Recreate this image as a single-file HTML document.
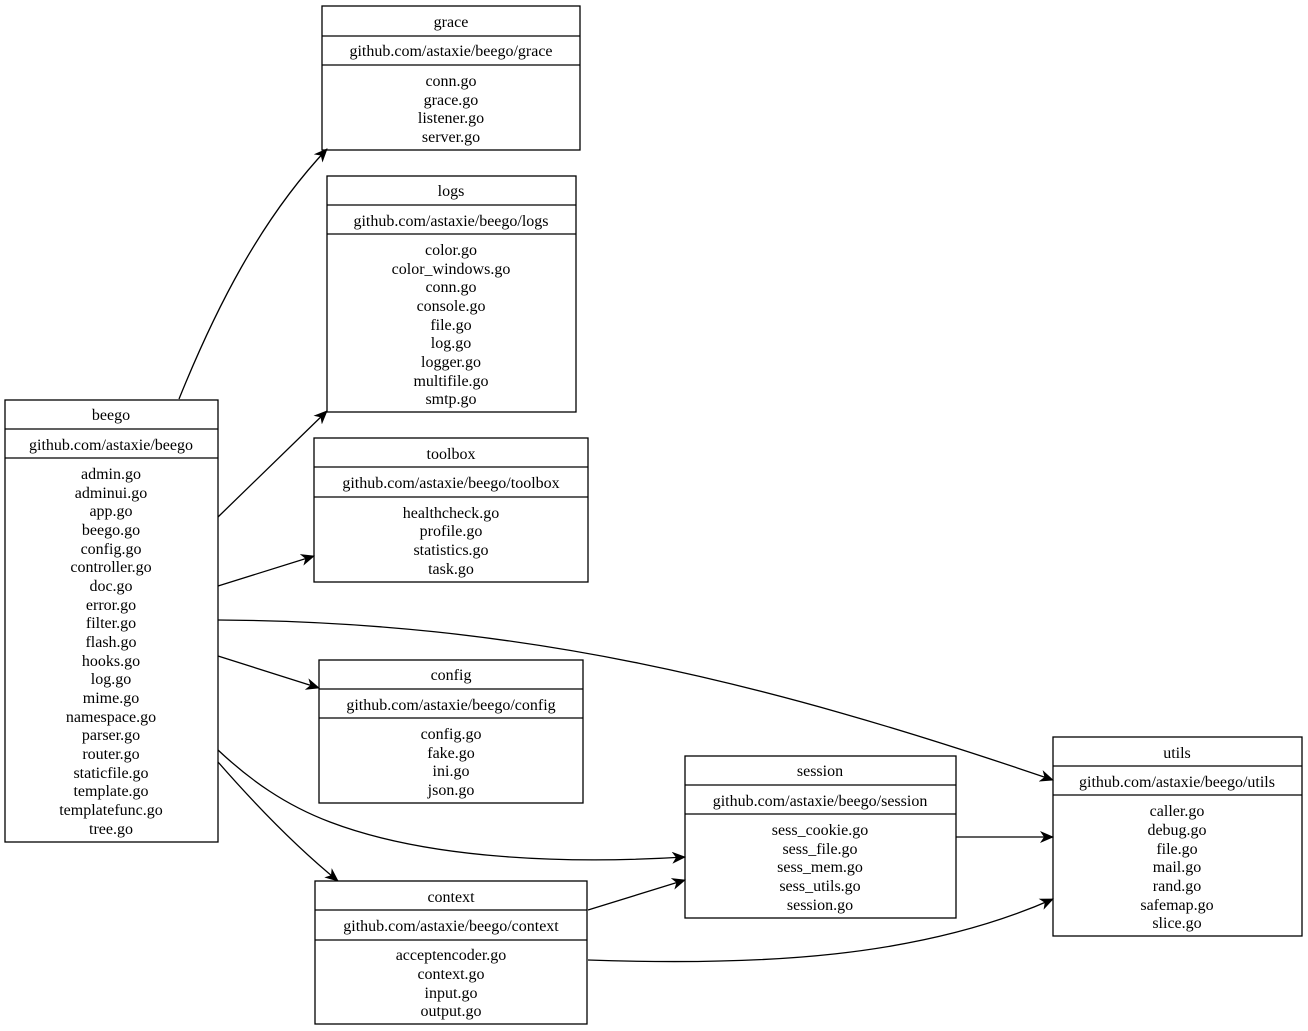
<!DOCTYPE html>
<html><head><meta charset="utf-8"><style>
html,body{margin:0;padding:0;background:#fff}
svg{display:block}
text{font-family:"Liberation Serif",serif;font-size:16px;fill:#000;text-anchor:middle}
rect,line{stroke:#000;stroke-width:1.3;fill:none}
path{stroke:#000;stroke-width:1.3;fill:none}
</style></head><body>
<svg width="1308" height="1031" viewBox="0 0 1308 1031" xmlns="http://www.w3.org/2000/svg">
<defs><marker id="a" markerWidth="14" markerHeight="12" refX="13" refY="6" orient="auto" markerUnits="userSpaceOnUse"><path d="M0,0 L14,6 L0,12 L4,6 z" style="fill:#000;stroke:none"/></marker></defs>

<!-- edges -->
<path d="M179,399 C215,310 260,220 327,149" marker-end="url(#a)"/>
<path d="M218,517 L327,411" marker-end="url(#a)"/>
<path d="M218,586 L314,556" marker-end="url(#a)"/>
<path d="M218,620 C520,622 760,680 1053,780" marker-end="url(#a)"/>
<path d="M218,656 L319,688" marker-end="url(#a)"/>
<path d="M218,750 C250,780 285,805 330,822 C430,860 570,864 685,857" marker-end="url(#a)"/>
<path d="M218,762 C260,810 300,850 338,881" marker-end="url(#a)"/>
<path d="M588,910 L685,880" marker-end="url(#a)"/>
<path d="M588,960 C760,966 920,958 1053,899" marker-end="url(#a)"/>
<path d="M956,837 L1053,837" marker-end="url(#a)"/>

<!-- grace -->
<rect x="322" y="6" width="258" height="144"/><line x1="322" y1="36" x2="580" y2="36"/><line x1="322" y1="65" x2="580" y2="65"/>
<text x="451" y="27">grace</text><text x="451" y="56">github.com/astaxie/beego/grace</text>
<text x="451" y="86">conn.go</text><text x="451" y="105">grace.go</text><text x="451" y="123">listener.go</text><text x="451" y="142">server.go</text>

<!-- logs -->
<rect x="327" y="176" width="249" height="236"/><line x1="327" y1="205" x2="576" y2="205"/><line x1="327" y1="234" x2="576" y2="234"/>
<text x="451" y="196">logs</text><text x="451" y="226">github.com/astaxie/beego/logs</text>
<text x="451" y="255">color.go</text><text x="451" y="274">color_windows.go</text><text x="451" y="292">conn.go</text><text x="451" y="311">console.go</text><text x="451" y="330">file.go</text><text x="451" y="348">log.go</text><text x="451" y="367">logger.go</text><text x="451" y="386">multifile.go</text><text x="451" y="404">smtp.go</text>

<!-- toolbox -->
<rect x="314" y="438" width="274" height="144"/><line x1="314" y1="467" x2="588" y2="467"/><line x1="314" y1="497" x2="588" y2="497"/>
<text x="451" y="459">toolbox</text><text x="451" y="488">github.com/astaxie/beego/toolbox</text>
<text x="451" y="518">healthcheck.go</text><text x="451" y="536">profile.go</text><text x="451" y="555">statistics.go</text><text x="451" y="574">task.go</text>

<!-- config -->
<rect x="319" y="660" width="264" height="143"/><line x1="319" y1="689" x2="583" y2="689"/><line x1="319" y1="718" x2="583" y2="718"/>
<text x="451" y="680">config</text><text x="451" y="710">github.com/astaxie/beego/config</text>
<text x="451" y="739">config.go</text><text x="451" y="758">fake.go</text><text x="451" y="776">ini.go</text><text x="451" y="795">json.go</text>

<!-- context -->
<rect x="315" y="881" width="272" height="143"/><line x1="315" y1="910" x2="587" y2="910"/><line x1="315" y1="940" x2="587" y2="940"/>
<text x="451" y="902">context</text><text x="451" y="931">github.com/astaxie/beego/context</text>
<text x="451" y="960">acceptencoder.go</text><text x="451" y="979">context.go</text><text x="451" y="998">input.go</text><text x="451" y="1016">output.go</text>

<!-- session -->
<rect x="685" y="756" width="271" height="162"/><line x1="685" y1="785" x2="956" y2="785"/><line x1="685" y1="814" x2="956" y2="814"/>
<text x="820" y="776">session</text><text x="820" y="806">github.com/astaxie/beego/session</text>
<text x="820" y="835">sess_cookie.go</text><text x="820" y="854">sess_file.go</text><text x="820" y="872">sess_mem.go</text><text x="820" y="891">sess_utils.go</text><text x="820" y="910">session.go</text>

<!-- utils -->
<rect x="1053" y="737" width="249" height="199"/><line x1="1053" y1="766" x2="1302" y2="766"/><line x1="1053" y1="795" x2="1302" y2="795"/>
<text x="1177" y="758">utils</text><text x="1177" y="787">github.com/astaxie/beego/utils</text>
<text x="1177" y="816">caller.go</text><text x="1177" y="835">debug.go</text><text x="1177" y="854">file.go</text><text x="1177" y="872">mail.go</text><text x="1177" y="891">rand.go</text><text x="1177" y="910">safemap.go</text><text x="1177" y="928">slice.go</text>

<!-- beego -->
<rect x="5" y="400" width="213" height="442"/><line x1="5" y1="429" x2="218" y2="429"/><line x1="5" y1="458" x2="218" y2="458"/>
<text x="111" y="420">beego</text><text x="111" y="450">github.com/astaxie/beego</text>
<text x="111" y="479">admin.go</text><text x="111" y="498">adminui.go</text><text x="111" y="516">app.go</text><text x="111" y="535">beego.go</text><text x="111" y="554">config.go</text><text x="111" y="572">controller.go</text><text x="111" y="591">doc.go</text><text x="111" y="610">error.go</text><text x="111" y="628">filter.go</text><text x="111" y="647">flash.go</text><text x="111" y="666">hooks.go</text><text x="111" y="684">log.go</text><text x="111" y="703">mime.go</text><text x="111" y="722">namespace.go</text><text x="111" y="740">parser.go</text><text x="111" y="759">router.go</text><text x="111" y="778">staticfile.go</text><text x="111" y="796">template.go</text><text x="111" y="815">templatefunc.go</text><text x="111" y="834">tree.go</text>
</svg>
</body></html>
